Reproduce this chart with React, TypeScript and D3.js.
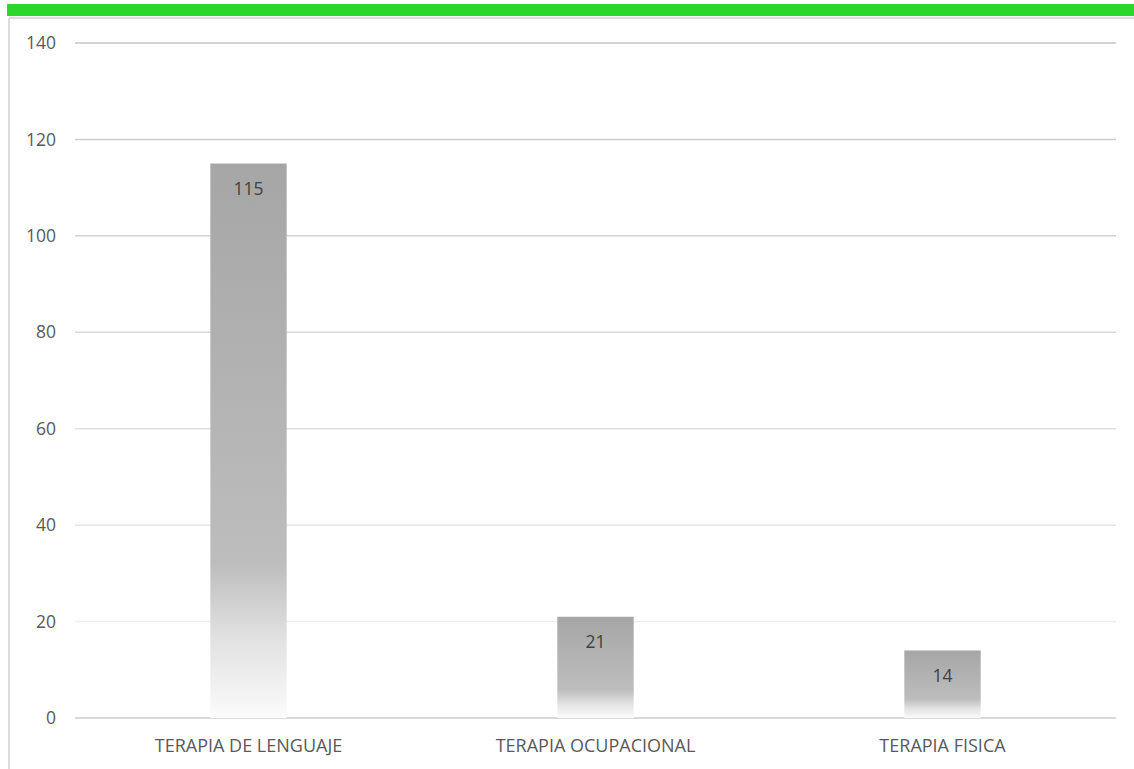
import React from "react";
import * as d3 from "d3";

const categories = ["TERAPIA DE LENGUAJE", "TERAPIA OCUPACIONAL", "TERAPIA FISICA"];
const values = [115, 21, 14];
const yTicks = [0, 20, 40, 60, 80, 100, 120, 140];

const W = 1134;
const H = 769;
const margin = { left: 75, right: 18, top: 43, bottom: 51 };

export default function App() {
  const x = d3
    .scaleBand<string>()
    .domain(categories)
    .range([margin.left, W - margin.right])
    .paddingInner(0.78)
    .paddingOuter(0.39);
  const y = d3.scaleLinear().domain([0, 140]).range([H - margin.bottom, margin.top]);
  const gridColor = d3.scaleLinear<string>().domain([0, 140]).range(["#f3f3f3", "#c6c6c6"]);
  const font = "'Open Sans', 'Liberation Sans', sans-serif";

  return (
    <svg
      width={W}
      height={H}
      style={{ position: "absolute", left: 0, top: 0, background: "#fff" }}
      fontFamily={font}
    >
      <defs>
        <linearGradient id="barGrad" x1="0" y1="0" x2="0" y2="1">
          <stop offset="0" stopColor="#a6a6a6" />
          <stop offset="0.72" stopColor="#bdbdbd" />
          <stop offset="0.86" stopColor="#e2e2e2" />
          <stop offset="1" stopColor="#fbfbfb" />
        </linearGradient>
      </defs>
      <rect x={7} y={4} width={W - 7} height={12} fill="#2bd72b" />
      <line x1={9} x2={W} y1={18} y2={18} stroke="#dcdcdc" strokeWidth={2} />
      <line x1={9} x2={9} y1={18} y2={H} stroke="#dcdcdc" strokeWidth={2} />
      {yTicks.map((t) => (
        <g key={t}>
          <line
            x1={margin.left}
            x2={W - margin.right}
            y1={y(t)}
            y2={y(t)}
            stroke={t === 0 ? "#d9d9d9" : gridColor(t)}
            strokeWidth={t === 0 ? 2 : 1.5}
          />
          <text x={56} y={y(t)} dy="0.35em" textAnchor="end" fontSize={17.5} fill="#595959">
            {t}
          </text>
        </g>
      ))}
      {categories.map((c, i) => {
        const bx = x(c)!;
        const bw = x.bandwidth();
        return (
          <g key={c}>
            <rect x={bx} y={y(values[i])} width={bw} height={y(0) - y(values[i])} fill="url(#barGrad)" />
            <text
              x={bx + bw / 2}
              y={y(values[i]) + 25}
              dy="0.35em"
              textAnchor="middle"
              fontSize={17.5}
              fill="#404040"
            >
              {values[i]}
            </text>
            <text x={bx + bw / 2} y={746} dy="0.35em" textAnchor="middle" fontSize={18} fill="#595959">
              {c}
            </text>
          </g>
        );
      })}
    </svg>
  );
}
